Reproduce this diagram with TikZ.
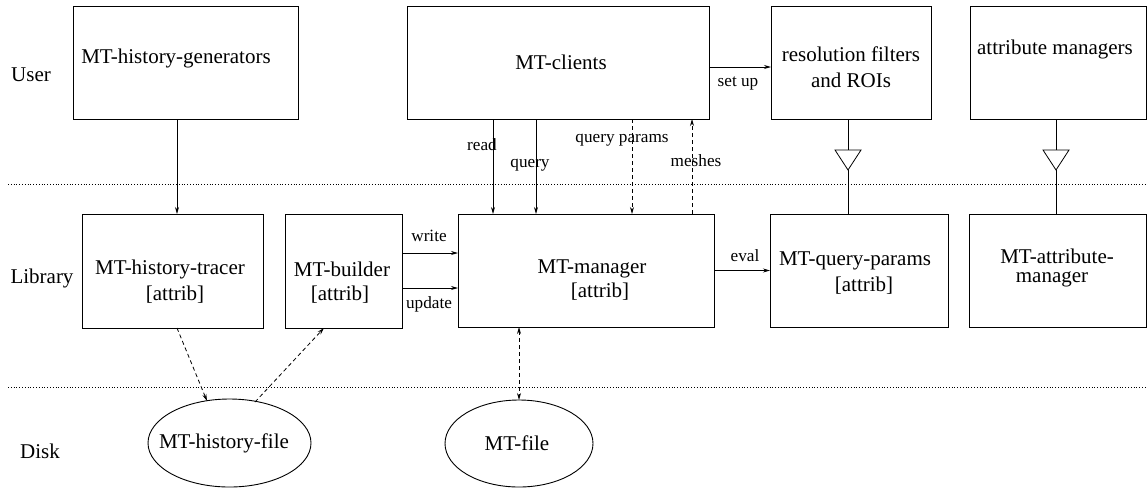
\documentclass[tikz,border=0pt]{standalone}
\usepackage{fontspec}
\setmainfont{Liberation Serif}
\newfontfamily\figserif{Liberation Serif}
\usetikzlibrary{arrows.meta,shapes.geometric,calc}
\begin{document}
\begin{tikzpicture}[x=1pt,y=-1pt,
  box/.style={draw,line width=0.9pt,inner sep=0pt,outer sep=0pt,rectangle},
  disk/.style={draw,line width=0.9pt,inner sep=0pt,outer sep=0pt,ellipse},
  txt/.style={inner sep=0pt,font=\figserif\fontsize{21}{25.5}\selectfont},
  lbl/.style={inner sep=0pt,font=\figserif\fontsize{17.2}{20}\selectfont},
  link/.style={line width=0.8pt},
  arr/.style={link,-{Stealth[length=7pt,width=4pt]}},
  darr/.style={arr,dash pattern=on 4pt off 3pt},
  sep/.style={line width=0.8pt,dotted}]
\useasboundingbox (0,0) rectangle (1147,491);

% layer separators
\draw[sep] (8,184) -- (1147,184);
\draw[sep] (8,387) -- (1147,387);

% layer names
\node[txt] (luser) at (31,75) {User};
\node[txt] (llib) at (42,278) {Library};
\node[txt] (ldisk) at (40,451) {Disk};

% user layer
\node[box,minimum width=225,minimum height=113] (gen) at (185.5,62.5) {};
\node[txt] (gent) at (176,58) {MT-history-generators};
\node[box,minimum width=302,minimum height=113] (cli) at (558,62.5) {};
\node[txt] (clit) at (561,62) {MT-clients};
\node[box,minimum width=160,minimum height=113] (res) at (851,62.5) {};
\node[txt,align=center] (rest) at (851,67) {resolution filters\\and ROIs};
\node[box,minimum width=176,minimum height=113] (atm) at (1058,62.5) {};
\node[txt] (atmt) at (1055,49) {attribute managers};

% library layer
\node[box,minimum width=181,minimum height=114] (tr) at (172.5,271) {};
\node[txt] (trt1) at (170,269) {MT-history-tracer};
\node[txt] (trt2) at (175,295) {[attrib]};
\node[box,minimum width=117,minimum height=114] (bld) at (343.5,271) {};
\node[txt] (bldt1) at (342,269) {MT-builder};
\node[txt] (bldt2) at (340,295) {[attrib]};
\node[box,minimum width=256,minimum height=113] (mgr) at (586,270.5) {};
\node[txt] (mgrt1) at (592,269) {MT-manager};
\node[txt] (mgrt2) at (600,292) {[attrib]};
\node[box,minimum width=178,minimum height=113] (qp) at (859,270.5) {};
\node[txt] (qpt1) at (855,261) {MT-query-params};
\node[txt] (qpt2) at (864,286) {[attrib]};
\node[box,minimum width=177,minimum height=113] (am) at (1057.5,270.5) {};
\node[txt] (amt1) at (1057,256) {MT-attribute-};
\node[txt] (amt2) at (1052,279) {manager};

% disk layer
\node[disk,minimum width=163,minimum height=88] (hf) at (229.5,443) {};
\node[txt] (hft) at (224,443) {MT-history-file};
\node[disk,minimum width=148,minimum height=87] (mf) at (519,443.5) {};
\node[txt] (mft) at (517,443) {MT-file};

% user to library
\draw[arr] ([xshift=-8.5pt]gen.south) -- ([xshift=4.5pt]tr.north);
\draw[arr] ([xshift=-65pt]cli.south) -- ([xshift=-93pt]mgr.north);
\draw[arr] ([xshift=-22pt]cli.south) -- ([xshift=-50pt]mgr.north);
\draw[darr] ([xshift=74pt]cli.south) -- ([xshift=46pt]mgr.north);
\draw[darr] ([xshift=106pt]mgr.north) -- ([xshift=134pt]cli.south);
\draw[arr] ([yshift=-4.5pt]cli.east) -- ([yshift=-4.5pt]res.west);
\node[lbl] (lread) at (482,145) {read};
\node[lbl] (lquery) at (530,165) {query};
\node[lbl] (lqp) at (622,140) {query params};
\node[lbl] (lmesh) at (696,161) {meshes};
\node[lbl] (lsetup) at (738,83) {set up};

% generalisation links (open triangles)
\coordinate (ta) at (848,150);
\coordinate (tatip) at (848,170);
\coordinate (tb) at (1056,150);
\coordinate (tbtip) at (1056,170);
\draw[link] (ta |- res.south) -- (ta);
\draw[link] (ta) -- ++(-13,0) -- (tatip) -- ($(ta)+(13,0)$) -- cycle;
\draw[link] (tatip) -- (tatip |- qp.north);
\draw[link] (tb |- atm.south) -- (tb);
\draw[link] (tb) -- ++(-13,0) -- (tbtip) -- ($(tb)+(13,0)$) -- cycle;
\draw[link] (tbtip) -- (tbtip |- am.north);

% library links
\draw[arr] ([yshift=18pt]bld.east) -- ([yshift=17.5pt]mgr.west);
\draw[arr] ([yshift=-17pt]bld.east) -- ([yshift=-17.5pt]mgr.west);
\draw[arr] (mgr.east) -- (qp.west);
\node[lbl] (lwrite) at (429,236) {write};
\node[lbl] (lupdate) at (429,304) {update};
\node[lbl] (leval) at (745,256) {eval};

% library to disk
\draw[darr] ([xshift=4.5pt]tr.south) -- ([xshift=-22.5pt,yshift=-2pt]hf.north);
\draw[darr] ([xshift=25.5pt,yshift=-3pt]hf.north) -- ([xshift=-19.5pt]bld.south);
\draw[darr,{Stealth[length=7pt,width=4pt]}-{Stealth[length=7pt,width=4pt]}] ([xshift=-67pt]mgr.south) -- (mf.north);
\end{tikzpicture}
\end{document}
